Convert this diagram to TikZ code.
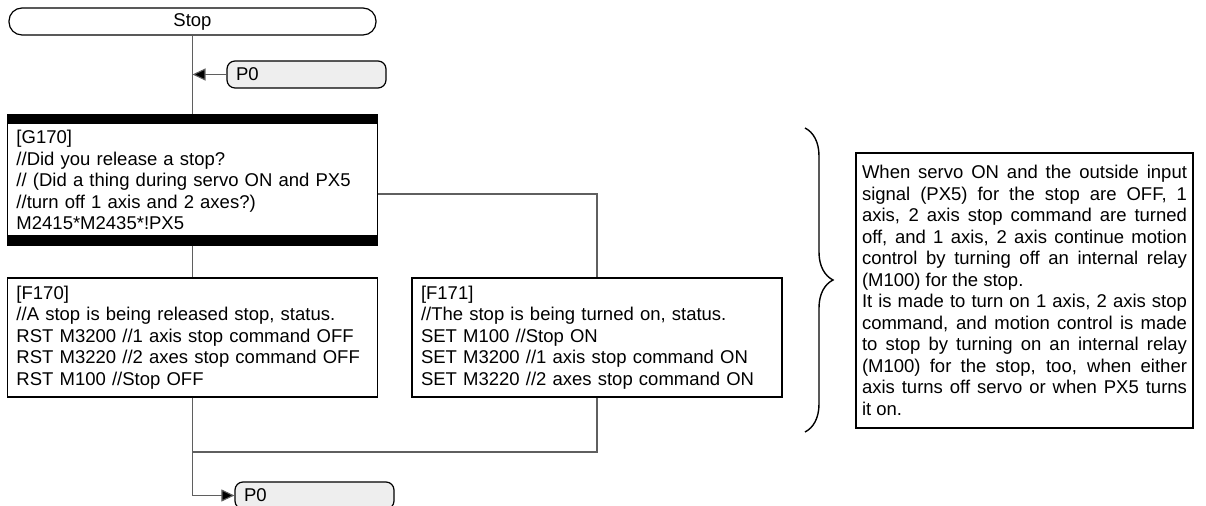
\documentclass[tikz,border=0pt]{standalone}
\usepackage{fontspec}
\setmainfont{Liberation Sans}
\usepackage{xcolor}
\usetikzlibrary{arrows.meta, positioning, decorations.pathreplacing}
\definecolor{linegray}{RGB}{95, 95, 95}
\definecolor{padfill}{RGB}{238, 238, 238}
\tolerance=9999
\tikzset{
    box/.style={rectangle, draw=black, line width=0.6pt, align=left, font=\fontsize{9.25pt}{10.75pt}\selectfont, inner xsep=4.5pt, inner ysep=0pt},
    terminal/.style={box, rounded corners=6.5pt, align=center, minimum width=183.5pt, minimum height=13.5pt},
    pointer/.style={box, fill=padfill, rounded corners=4pt, text width=70.5pt, minimum height=13.5pt},
    cond/.style={box, text width=176pt, minimum height=65pt,
        path picture={\fill[black] (path picture bounding box.north west) rectangle ([yshift=-4.75pt]path picture bounding box.north east);
                      \fill[black] (path picture bounding box.south west) rectangle ([yshift=4.75pt]path picture bounding box.south east);}},
    proc/.style={box, text width=176pt, minimum height=59.5pt},
    note/.style={box, align=justify, text width=162.5pt, inner xsep=3pt, minimum height=137.5pt},
    link/.style={draw=linegray, line width=0.55pt},
    arr/.style={link, -{Triangle[length=6.5pt, width=6pt, fill=black]}},
    curly/.style={decorate, decoration={brace, amplitude=14pt}, line width=0.7pt}
}

\begin{document}
\begin{tikzpicture}[x=0.5pt, y=-0.5pt]
    \useasboundingbox (0,0) rectangle (1206,506);
    \node[terminal] (stop) at (192.5,21.5) {Stop};
    \node[pointer] (ptop) at (306.5,74.5) {P0};
    \node[cond] (g170) at (192.5,180) {[G170]\\//Did you release a stop?\\// (Did a thing during servo ON and PX5\\//turn off 1 axis and 2 axes?)\\M2415*M2435*!PX5};
    \node[proc] (f170) at (192.5,337.5) {[F170]\\//A stop is being released stop, status.\\RST M3200 //1 axis stop command OFF\\RST M3220 //2 axes stop command OFF\\RST M100 //Stop OFF};
    \node[proc] (f171) at (597,337.5) {[F171]\\//The stop is being turned on, status.\\SET M100 //Stop ON\\SET M3200 //1 axis stop command ON\\SET M3220 //2 axes stop command ON};
    \node[pointer] (pbot) at (314.5,495.5) {P0};
    \node[note] (memo) at (1024.5,290.5) {When servo ON and the outside input\linebreak
        signal (PX5) for the stop are OFF, 1\linebreak
        axis, 2 axis stop command are turned\linebreak
        off, and 1 axis, 2 axis continue motion\linebreak
        control by turning off an internal relay\linebreak
        (M100) for the stop.\\
        It is made to turn on 1 axis, 2 axis stop\linebreak
        command, and motion control is made\linebreak
        to stop by turning on an internal relay\linebreak
        (M100) for the stop, too, when either\linebreak
        axis turns off servo or when PX5 turns\linebreak
        it on.};
    \coordinate (join) at (192.5,452);
    \coordinate (btop) at (805,128);
    \coordinate (bbot) at (805,432);
    \draw[link] (stop) -- (g170);
    \draw[arr] (ptop) -- (ptop -| stop);
    \draw[link] (g170) -- (f170);
    \draw[link] ([yshift=-7pt]g170.east) -| (f171);
    \draw[link] (f171) |- (join);
    \draw[arr] (f170) |- (pbot);
    \draw[curly] (btop) -- (bbot);
\end{tikzpicture}
\end{document}
